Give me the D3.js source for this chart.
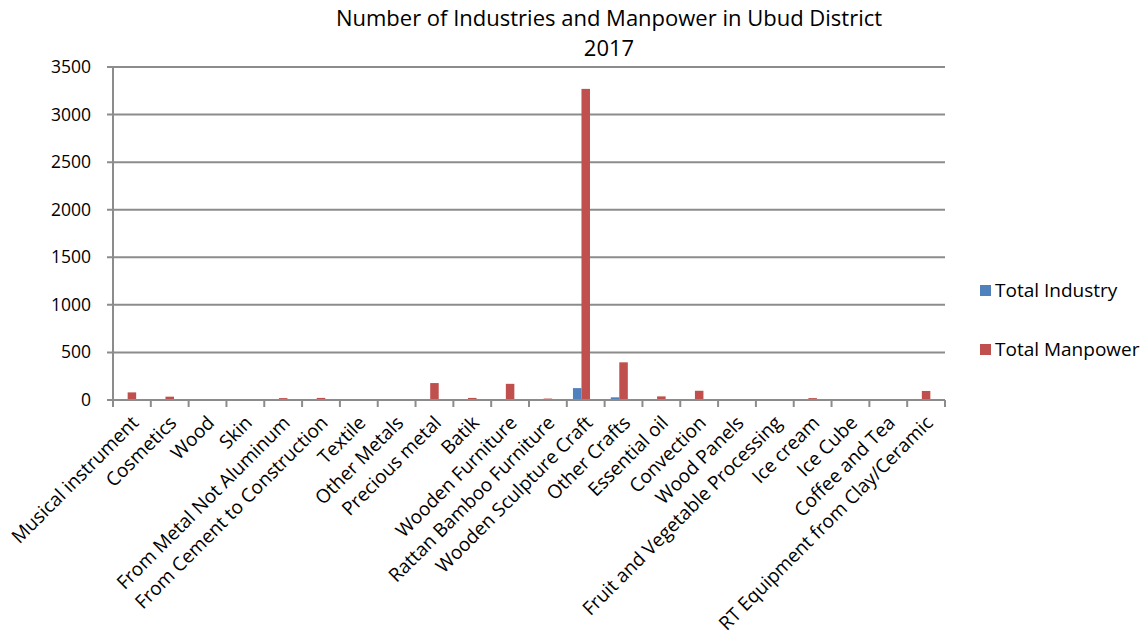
<!DOCTYPE html>
<head>
<meta charset="utf-8">
<script src='https://d3js.org/d3.v7.min.js'></script>
<title>Industries and Manpower in Ubud</title>
<style>
  body { margin:0; background:#fff; }
  text { font-family: 'Open Sans', sans-serif; fill:#000; }
</style>
</head>
<body>
<svg width=1145 height=643></svg>
<script>
// categories and values
let categories = ['Musical instrument','Cosmetics','Wood','Skin','From Metal Not Aluminum',
  'From Cement to Construction','Textile','Other Metals','Precious metal','Batik',
  'Wooden Furniture','Rattan Bamboo Furniture','Wooden Sculpture Craft','Other Crafts',
  'Essential oil','Convection','Wood Panels','Fruit and Vegetable Processing','Ice cream',
  'Ice Cube','Coffee and Tea','RT Equipment from Clay/Ceramic']
let totalIndustry = [4,3,1,1,2,2,1,1,8,2,9,2,125,28,2,6,1,1,2,1,1,5]
let totalManpower = [80,35,6,10,20,22,10,5,178,22,170,15,3270,396,38,97,3,3,20,5,4,95]
let yTicks = [0,500,1000,1500,2000,2500,3000,3500]
let seriesNames = ['Total Industry','Total Manpower']
let seriesColors = ['#4F81BD','#C0504D']

var svg = d3.select('svg')
var mLeft = 113, mRight = 945, mTop = 67, mBottom = 400

var x0 = d3.scaleBand().domain(categories).range([mLeft, mRight]).paddingInner(0)
var x1 = d3.scaleBand().domain(['a','b','c']).range([0, x0.bandwidth()]).paddingOuter(0.72)
var y = d3.scaleLinear().domain([0,3500]).range([mBottom, mTop])

// gridlines
svg.append('g')
  .selectAll('line')
  .data(yTicks)
  .enter()
  .append('line')
    .attr('x1', mLeft - 6)
    .attr('x2', mRight)
    .attr('y1', d => y(d))
    .attr('y2', d => y(d))
    .style('stroke', '#8c8c8c')
    .style('stroke-width', 2)

// y labels
svg.append('g')
  .selectAll('text')
  .data(yTicks)
  .enter()
  .append('text')
    .attr('x', 91)
    .attr('y', d => y(d) + 6)
    .style('text-anchor', 'end')
    .style('font-size', '17.5px')
    .text(d => d)

// y axis line
svg.append('line')
  .attr('x1', mLeft).attr('x2', mLeft)
  .attr('y1', mTop).attr('y2', mBottom)
  .style('stroke', '#8c8c8c').style('stroke-width', 2)

// bars
let rows = categories.map((c, i) => ({cat: c, vals: [totalIndustry[i], totalManpower[i]]}))
var g = svg.append('g')
rows.forEach(function(r) {
  r.vals.forEach(function(v, j) {
    g.append('rect')
      .attr('x', x0(r.cat) + x1(j == 0 ? 'a' : 'b'))
      .attr('y', y(v))
      .attr('width', x1.bandwidth())
      .attr('height', mBottom - y(v))
      .attr('fill', seriesColors[j])
  })
})

// bottom axis ticks
var boundaries = categories.map(c => x0(c)).concat([mRight])
svg.append('g')
  .selectAll('line')
  .data(boundaries)
  .enter()
  .append('line')
    .attr('x1', d => d).attr('x2', d => d)
    .attr('y1', mBottom).attr('y2', mBottom + 7)
    .style('stroke', '#8c8c8c').style('stroke-width', 2)

svg.append('line')
  .attr('x1', mLeft).attr('x2', mRight)
  .attr('y1', mBottom).attr('y2', mBottom)
  .style('stroke', '#8c8c8c').style('stroke-width', 2)

// category labels
svg.append('g')
  .selectAll('text')
  .data(categories)
  .enter()
  .append('text')
    .attr('transform', d => 'translate(' + (x0(d) + x0.bandwidth()/2 + 8) + ',' + (mBottom + 24) + ') rotate(-45)')
    .style('text-anchor', 'end')
    .style('font-size', '19px')
    .text(d => d)

// title
svg.append('text')
  .attr('x', 609).attr('y', 26)
  .style('text-anchor', 'middle')
  .style('font-size', '22px')
  .text('Number of Industries and Manpower in Ubud District')
svg.append('text')
  .attr('x', 609).attr('y', 56)
  .style('text-anchor', 'middle')
  .style('font-size', '22px')
  .text('2017')

// legend
seriesNames.forEach(function(s, i) {
  let ly = 291 + i * 59
  svg.append('rect')
    .attr('x', 980).attr('y', ly - 6)
    .attr('width', 11).attr('height', 11)
    .attr('fill', seriesColors[i])
  svg.append('text')
    .attr('x', 995).attr('y', ly + 6)
    .style('font-size', '19px')
    .text(s)
})
</script>
</body>
